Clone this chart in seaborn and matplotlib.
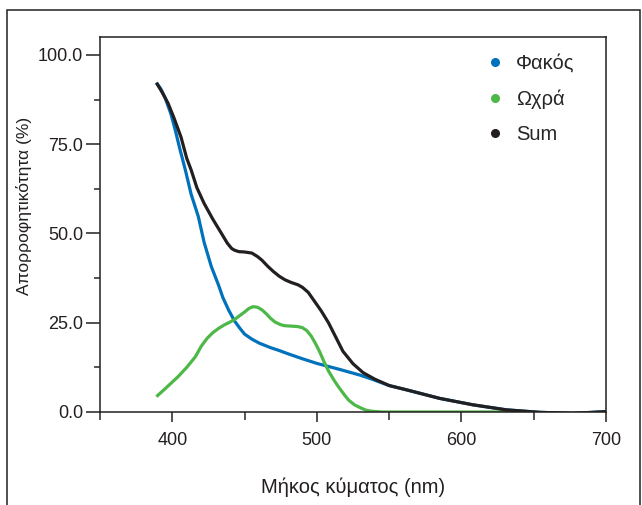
import matplotlib
matplotlib.use('Agg')
import matplotlib.pyplot as plt
from matplotlib.lines import Line2D
from matplotlib.patches import Rectangle
from matplotlib.ticker import MultipleLocator, FormatStrFormatter
import matplotlib.font_manager as fm
import pandas as pd
import seaborn as sns

# Absorption curves (wavelength in nm, absorption in %)
lens_nm = [389, 392, 395, 399, 402, 405, 409, 413, 418, 422, 427, 432, 435, 439, 443, 447,
           450, 455, 460, 468, 474, 480, 490, 500, 515, 530, 538, 550, 562, 585, 608, 631,
           654, 677, 700]
lens_abs = [92.2, 90.5, 88.0, 83.5, 79.0, 74.0, 67.8, 61.0, 54.7, 47.5, 40.7, 35.5, 32.0, 28.5,
            25.5, 23.3, 21.8, 20.4, 19.3, 18.0, 17.2, 16.3, 14.9, 13.6, 12.0, 10.3, 9.2, 7.4,
            6.2, 3.8, 2.0, 0.6, -0.1, -0.4, 0.1]

macula_nm = [389, 395, 404, 410, 416, 420, 424, 428, 432, 436, 440, 443, 446, 450, 453, 456,
             459, 462, 465, 468, 471, 474, 477, 480, 484, 487, 490, 493, 496, 499, 502, 505,
             508, 512, 515, 519, 522, 526, 530, 534, 538, 545, 600, 650]
macula_abs = [4.3, 6.5, 9.9, 12.5, 15.5, 18.4, 20.6, 22.2, 23.4, 24.4, 25.2, 25.9, 26.8, 28.0,
              29.0, 29.5, 29.3, 28.6, 27.5, 26.2, 25.2, 24.6, 24.2, 24.1, 24.0, 23.9, 23.6, 22.8,
              21.3, 19.2, 16.8, 14.0, 11.5, 8.8, 7.0, 4.8, 3.3, 2.0, 1.2, 0.5, 0.2, 0.0, 0.0, 0.0]

sum_nm = [389, 393, 397, 401, 406, 410, 413, 417, 422, 428, 434, 438, 441, 443, 446, 450,
          455, 459, 462, 466, 470, 474, 478, 482, 487, 490, 494, 498, 503, 508, 513, 518,
          525, 532, 540, 550, 562, 585, 608, 631, 654, 677, 700]
sum_abs = [92.2, 89.5, 86.5, 82.5, 77.0, 71.0, 67.8, 62.8, 58.4, 54.0, 50.0, 47.3, 45.8, 45.3,
           44.9, 44.8, 44.5, 43.5, 42.5, 40.8, 39.3, 38.0, 37.0, 36.3, 35.6, 34.9, 33.5, 31.2,
           28.3, 25.0, 21.0, 17.0, 13.5, 11.0, 9.2, 7.4, 6.2, 3.8, 2.0, 0.6, -0.1, -0.4, 0.1]

labels = ['Φακός', 'Ωχρά', 'Sum']
colors = ['#0072BC', '#4DB848', '#231F20']

sns.set_style('ticks')
installed = {f.name for f in fm.fontManager.ttflist}
main_font = 'Liberation Sans Narrow' if 'Liberation Sans Narrow' in installed else 'Liberation Sans'
plt.rcParams['font.family'] = [main_font, 'DejaVu Sans']
plt.rcParams['axes.edgecolor'] = '#231F20'
plt.rcParams['axes.linewidth'] = 1.1

fig = plt.figure(figsize=(6.42, 5.05), dpi=100)
ax = fig.add_axes([0.1558, 0.1842, 0.7882, 0.7425])

series = [(lens_nm, lens_abs), (macula_nm, macula_abs), (sum_nm, sum_abs)]
for (nm, val), lab, col in zip(series, labels, colors):
    df = pd.DataFrame({'nm': nm, 'abs': val})
    sns.lineplot(data=df, x='nm', y='abs', ax=ax, color=col, linewidth=2.3,
                 solid_capstyle='butt', solid_joinstyle='round', label=lab)

ax.set_xlim(350, 700)
ax.set_ylim(0, 105)
ax.xaxis.set_minor_locator(MultipleLocator(50))
ax.set_xticks([400, 500, 600, 700])
ax.yaxis.set_major_locator(MultipleLocator(25))
ax.yaxis.set_minor_locator(MultipleLocator(12.5))
ax.yaxis.set_major_formatter(FormatStrFormatter('%.1f'))

ax.tick_params(axis='y', which='major', length=10, width=1.1, pad=2, labelsize=13, colors='#231F20')
ax.tick_params(axis='y', which='minor', length=4.5, width=1.1)
ax.tick_params(axis='x', which='major', length=7.5, width=1.1, pad=7, labelsize=13, colors='#231F20')
ax.tick_params(axis='x', which='minor', length=5.5, width=1.1)

ax.set_xlabel('Μήκος κύματος (nm)', fontsize=14.5, color='#231F20')
ax.set_ylabel('Απορροφητικότητα (%)', fontsize=12.5, color='#231F20')
ax.xaxis.set_label_coords(0.5, -0.175)
ax.yaxis.set_label_coords(-0.135, 0.55)

handles = [Line2D([], [], marker='o', linestyle='none', markersize=5.5,
                  markerfacecolor=c, markeredgecolor=c) for c in colors]
ax.legend(handles, labels, loc='upper left', bbox_to_anchor=(0.724, 1.003), frameon=False,
          fontsize=14.5, handlelength=1.0, handletextpad=0.55, labelspacing=0.8)

fig.add_artist(Rectangle((7 / 642, -0.1), 633 / 642, 1.1 - 10 / 505, transform=fig.transFigure,
                         fill=False, edgecolor='#231F20', linewidth=1.1, clip_on=False))

fig.savefig('out.png', dpi=100)
